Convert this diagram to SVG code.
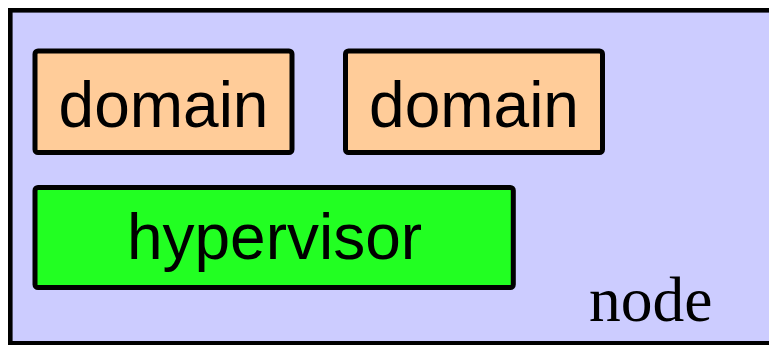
<svg xmlns="http://www.w3.org/2000/svg" width="769" height="345" viewBox="0 0 769 345">
<style>
.box{stroke:#000;stroke-width:5;stroke-linejoin:round}
.lbl{font-family:"Liberation Sans",Arial,sans-serif;font-size:64px;fill:#000;text-anchor:middle}
</style>
<rect width="769" height="345" fill="#fff"/>
<g id="node">
<rect x="10.3" y="10.3" width="800" height="333" fill="#ccccff" stroke="#000" stroke-width="4.6"/>
<text x="589" y="321" font-family="'Liberation Serif','Times New Roman',serif" font-size="63.5" fill="#000">node</text>
</g>
<g id="domain1">
<rect class="box" x="35" y="51" width="257" height="101.5" rx="3" fill="#ffcc99"/>
<text class="lbl" x="163.5" y="127">domain</text>
</g>
<g id="domain2">
<rect class="box" x="345.5" y="51" width="257" height="101.5" rx="3" fill="#ffcc99"/>
<text class="lbl" x="474" y="127">domain</text>
</g>
<g id="hypervisor">
<rect class="box" x="35" y="187.5" width="478.3" height="100" rx="3" fill="#22ff22"/>
<text class="lbl" x="274.5" y="259">hypervisor</text>
</g>
<g id="connectors"></g>
</svg>
